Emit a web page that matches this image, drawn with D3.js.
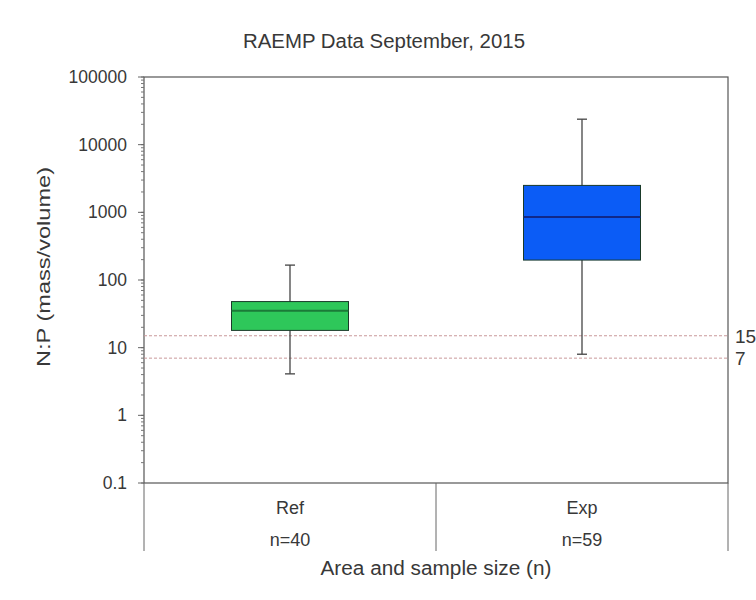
<!DOCTYPE html>
<html><head><meta charset="utf-8">
<script src="https://cdn.jsdelivr.net/npm/d3@7"></script>
<style>body{margin:0;background:#fff}text{font-family:"Liberation Sans",Arial,sans-serif;fill:#383838}</style>
</head><body><svg id="c" width="756" height="600"></svg>
<script>
const categories = ["Ref", "Exp"];
const sampleSizes = ["n=40", "n=59"];
const whiskerLow = [4.1, 8.0];
const q1 = [18, 197];
const median = [35, 850];
const q3 = [48, 2500];
const whiskerHigh = [166, 23800];
const boxColors = ["#2ec75a", "#0b5cf6"];
const medianColors = ["#1b7a38", "#10288a"];
const refLines = [15, 7];
const yTicks = [0.1, 1, 10, 100, 1000, 10000, 100000];

const svg = d3.select("#c");
const L = 144, R = 728, T = 77, B = 483;
const y = d3.scaleLog().domain([0.1, 100000]).range([B, T]);
const x = d3.scaleBand().domain(categories).range([L, R]).paddingInner(0).paddingOuter(0);

// title
svg.append("text").attr("x", 384).attr("y", 48).attr("text-anchor", "middle")
  .attr("font-size", 19.5).attr("textLength", 282).attr("lengthAdjust", "spacingAndGlyphs")
  .text("RAEMP Data September, 2015");

// frame
svg.append("rect").attr("x", L).attr("y", T).attr("width", R - L).attr("height", B - T)
  .attr("fill", "none").attr("stroke", "#555").attr("stroke-width", 1.2);

// minor ticks
const minor = [];
for (let e = -1; e < 5; e++) for (let m = 1; m < 10; m++) minor.push(m * Math.pow(10, e));
minor.push(100000);
svg.append("g").selectAll("line").data(minor).join("line")
  .attr("x1", L - 3).attr("x2", L).attr("y1", d => y(d)).attr("y2", d => y(d))
  .attr("stroke", "#777").attr("stroke-width", 1);

// y axis labels
svg.append("g").selectAll("text").data(yTicks).join("text")
  .attr("x", L - 17).attr("y", d => y(d) + 6).attr("text-anchor", "end")
  .attr("font-size", 17.5).text(d => d3.format("")(d));
svg.append("g").selectAll("line").data(yTicks).join("line")
  .attr("x1", L - 6).attr("x2", L).attr("y1", d => y(d)).attr("y2", d => y(d))
  .attr("stroke", "#666");

svg.append("text").attr("transform", `translate(50,267) rotate(-90)`)
  .attr("text-anchor", "middle").attr("font-size", 17.5)
  .attr("textLength", 200).attr("lengthAdjust", "spacingAndGlyphs")
  .text("N:P (mass/volume)");

// reference lines
svg.append("g").selectAll("line").data(refLines).join("line")
  .attr("x1", L).attr("x2", R).attr("y1", d => y(d)).attr("y2", d => y(d))
  .attr("stroke", "#c9999a").attr("stroke-width", 1).attr("stroke-dasharray", "3,2");
svg.append("g").selectAll("text").data(refLines).join("text")
  .attr("x", R + 7).attr("y", d => y(d) + 7).attr("font-size", 19).text(d => d);

// boxes
const bw = 117;
const g = svg.append("g").selectAll("g").data(categories).join("g");
const cx = (d) => x(d) + x.bandwidth() / 2;
g.append("line").attr("x1", cx).attr("x2", cx)
  .attr("y1", (d, i) => y(whiskerHigh[i])).attr("y2", (d, i) => y(whiskerLow[i]))
  .attr("stroke", "#444").attr("stroke-width", 1.3);
g.append("line").attr("x1", d => cx(d) - 5).attr("x2", d => cx(d) + 5)
  .attr("y1", (d, i) => y(whiskerHigh[i])).attr("y2", (d, i) => y(whiskerHigh[i]))
  .attr("stroke", "#444").attr("stroke-width", 1.3);
g.append("line").attr("x1", d => cx(d) - 5).attr("x2", d => cx(d) + 5)
  .attr("y1", (d, i) => y(whiskerLow[i])).attr("y2", (d, i) => y(whiskerLow[i]))
  .attr("stroke", "#444").attr("stroke-width", 1.3);
g.append("rect").attr("x", d => cx(d) - bw / 2).attr("width", bw)
  .attr("y", (d, i) => y(q3[i])).attr("height", (d, i) => y(q1[i]) - y(q3[i]))
  .attr("fill", (d, i) => boxColors[i]).attr("stroke", "#1a3a2a").attr("stroke-width", 1);
g.append("line").attr("x1", d => cx(d) - bw / 2).attr("x2", d => cx(d) + bw / 2)
  .attr("y1", (d, i) => y(median[i])).attr("y2", (d, i) => y(median[i]))
  .attr("stroke", (d, i) => medianColors[i]).attr("stroke-width", 2);

// category table
const dividers = [L, ...categories.slice(1).map(c => x(c)), R];
svg.append("g").selectAll("line").data(dividers).join("line")
  .attr("x1", d => d).attr("x2", d => d).attr("y1", B).attr("y2", 551)
  .attr("stroke", "#666").attr("stroke-width", 1);
svg.append("g").selectAll("text").data(categories).join("text")
  .attr("x", cx).attr("y", 514).attr("text-anchor", "middle").attr("font-size", 18).text(d => d);
svg.append("g").selectAll("text").data(sampleSizes).join("text")
  .attr("x", (d, i) => cx(categories[i])).attr("y", 546).attr("text-anchor", "middle")
  .attr("font-size", 18).text(d => d);
svg.append("text").attr("x", 436).attr("y", 575).attr("text-anchor", "middle")
  .attr("font-size", 19.5).attr("textLength", 231).attr("lengthAdjust", "spacingAndGlyphs")
  .text("Area and sample size (n)");
</script></body></html>
